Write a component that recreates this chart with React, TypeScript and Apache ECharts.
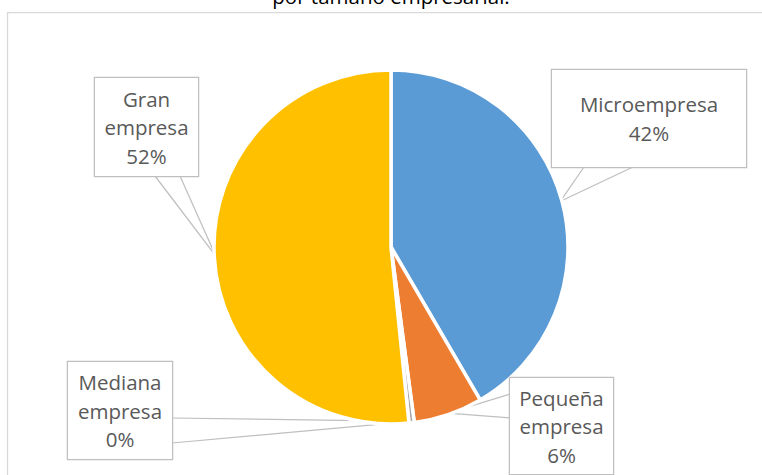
import React, { useEffect, useRef } from 'react';
import * as echarts from 'echarts';

const categories = ['Microempresa', 'Pequeña empresa', 'Mediana empresa', 'Gran empresa'];
const shares = [41.6, 6.3, 0.48, 51.62];
const sliceColors = ['#5B9BD5', '#ED7D31', '#A5A5A5', '#FFC000'];
const titleText = 'por tamaño empresarial.';

// Callout boxes (layout only): left, top, width, height, side of the pointer, pointer base offsets
const calloutBoxes = [
  { x: 552, y: 70, w: 194, h: 97, side: 'bottom', a: 32, b: 81 },
  { x: 510, y: 378, w: 103, h: 96, side: 'left', a: 16, b: 40 },
  { x: 68, y: 362, w: 104, h: 97, side: 'right', a: 56, b: 81 },
  { x: 95, y: 78, w: 103, h: 98, side: 'bottom', a: 60, b: 85 },
];

const CX = 391;
const CY = 247;
const R = 177;
const LINE_H = 28.5;
const FONT = '"Open Sans", "Noto Sans", sans-serif';

function labelLines(name: string): string[] {
  return name.split(' ');
}

export default function App() {
  const ref = useRef<HTMLDivElement>(null);

  useEffect(() => {
    if (!ref.current) return;
    const chart = echarts.init(ref.current, undefined, { renderer: 'svg' });
    const total = shares.reduce((s, v) => s + v, 0);

    const data = categories.map((name, i) => {
      const box = calloutBoxes[i];
      const nLines = labelLines(name).length + 1;
      const padV = (box.h - nLines * LINE_H) / 2;
      return {
        name,
        value: shares[i],
        itemStyle: { color: sliceColors[i] },
        label: {
          width: box.w,
          padding: [padV, 0, padV, 0],
        },
      };
    });

    const option: any = {
      animation: false,
      textStyle: { fontFamily: FONT },
      graphic: [
        {
          type: 'rect',
          silent: true,
          shape: { x: 7.5, y: 12.5, width: 800, height: 500 },
          style: { fill: 'none', stroke: '#D9D9D9', lineWidth: 1.25 },
        },
        {
          type: 'text',
          silent: true,
          x: 391,
          y: -4,
          style: {
            text: titleText,
            font: '20.5px ' + FONT,
            fill: '#000000',
            align: 'center',
            verticalAlign: 'middle',
          },
        },
      ],
      series: [
        {
          type: 'pie',
          center: [CX, CY],
          radius: R,
          startAngle: 90,
          clockwise: true,
          avoidLabelOverlap: false,
          minShowLabelAngle: 0,
          emphasis: { disabled: true },
          itemStyle: { borderColor: '#ffffff', borderWidth: 3.5 },
          label: {
            show: true,
            position: 'outside',
            fontFamily: FONT,
            fontSize: 20.5,
            color: '#595959',
            lineHeight: LINE_H,
            align: 'center',
            backgroundColor: '#ffffff',
            borderColor: '#BFBFBF',
            borderWidth: 1.25,
            formatter: (p: any) =>
              labelLines(p.name).join('\n') + '\n' + Math.round(p.percent) + '%',
          },
          labelLine: {
            show: true,
            showAbove: true,
            length: 10,
            length2: 10,
            smooth: false,
            lineStyle: { color: '#BFBFBF', width: 1.25 },
          },
          labelLayout: (params: any) => {
            const i = params.dataIndex;
            const b = calloutBoxes[i];
            let cum = 0;
            for (let k = 0; k < i; k++) cum += shares[k];
            const mid = ((cum + shares[i] / 2) / total) * Math.PI * 2;
            const ra = R - 1.5;
            const anchor = [CX + ra * Math.sin(mid), CY - ra * Math.cos(mid)];
            let p1: number[];
            let p2: number[];
            if (b.side === 'bottom') {
              p1 = [b.x + b.a, b.y + b.h];
              p2 = [b.x + b.b, b.y + b.h];
            } else if (b.side === 'left') {
              p1 = [b.x, b.y + b.a];
              p2 = [b.x, b.y + b.b];
            } else if (b.side === 'right') {
              p1 = [b.x + b.w, b.y + b.a];
              p2 = [b.x + b.w, b.y + b.b];
            } else {
              p1 = [b.x + b.a, b.y];
              p2 = [b.x + b.b, b.y];
            }
            return {
              x: b.x + b.w / 2,
              y: b.y,
              align: 'center',
              verticalAlign: 'top',
              labelLinePoints: [p1, anchor, p2],
            };
          },
          data,
        },
      ],
    };

    chart.setOption(option);
    return () => chart.dispose();
  }, []);

  return (
    <div
      ref={ref}
      style={{ position: 'absolute', left: 0, top: 0, width: 762, height: 475, background: '#ffffff' }}
    />
  );
}
